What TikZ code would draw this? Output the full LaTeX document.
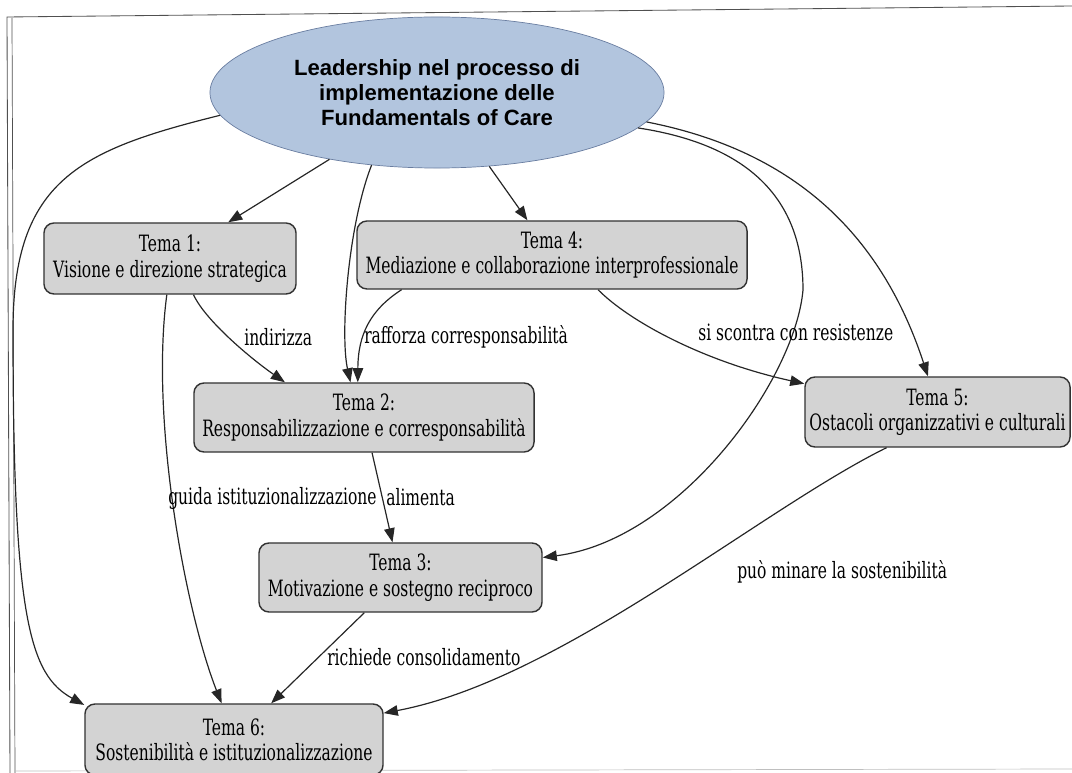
\documentclass[tikz,border=0pt]{standalone}
\usepackage{fontspec}
\newfontfamily\temafont{DejaVu Serif}[FakeStretch=0.69]
\newfontfamily\titolofont{Liberation Sans}
\usetikzlibrary{arrows.meta,shapes.geometric}

\definecolor{colradice}{RGB}{178,197,222}
\definecolor{colbordoradice}{RGB}{105,125,160}
\definecolor{colgrigiotema}{RGB}{211,211,211}
\definecolor{colbordotema}{RGB}{50,50,50}
\definecolor{colcornice}{RGB}{80,80,80}

\tikzset{
  radice/.style={ellipse, draw=colbordoradice, fill=colradice, line width=0.5pt,
       inner sep=0pt, align=center,
       font=\titolofont\bfseries\fontsize{15.7}{17.6}\selectfont},
  tema/.style={draw=colbordotema, fill=colgrigiotema, line width=1pt,
       rounded corners=0.25cm, inner sep=0pt, align=center,
       font=\temafont\fontsize{16}{18}\selectfont},
  arco/.style={draw=black!85, line width=0.85pt, -{Triangle[length=10pt,width=7.5pt]}},
  etichetta/.style={anchor=west, inner sep=0pt,
       font=\temafont\fontsize{16}{18}\selectfont},
}

\begin{document}
\begin{tikzpicture}[x=0.025cm, y=-0.025cm]

\useasboundingbox (0,0) rectangle (1072,773);

% cornice
\draw[colcornice, line width=0.6pt] (10,773) -- (7,17) -- (1072,6);
\draw[colcornice, line width=0.5pt] (15,773) -- (12,18);
\draw[black!25, line width=0.5pt] (15,771) -- (1072,769);

% nodi
\node[radice, minimum width=11.35cm, minimum height=3.775cm] (root) at (437,92.5)
  {Leadership nel processo di\\implementazione delle\\Fundamentals of Care};

\node[tema, minimum width=6.3cm, minimum height=1.775cm] (t1) at (170,258.5)
  {Tema 1:\\Visione e direzione strategica};
\node[tema, minimum width=9.75cm, minimum height=1.7cm] (t4) at (552,255)
  {Tema 4:\\Mediazione e collaborazione interprofessionale};
\node[tema, minimum width=8.5cm, minimum height=1.725cm] (t2) at (364,417.5)
  {Tema 2:\\Responsabilizzazione e corresponsabilità};
\node[tema, minimum width=7.075cm, minimum height=1.725cm] (t3) at (400.5,577.5)
  {Tema 3:\\Motivazione e sostegno reciproco};
\node[tema, minimum width=6.625cm, minimum height=1.75cm] (t5) at (937.5,412)
  {Tema 5:\\Ostacoli organizzativi e culturali};
\node[tema, minimum width=7.45cm, minimum height=1.775cm] (t6) at (234,739.5)
  {Tema 6:\\Sostenibilità e istituzionalizzazione};

% archi dalla radice
\draw[arco] (root) -- (t1);
\draw[arco] (root) -- (t4);
\draw[arco] (root.-132) .. controls (348,225) and (340,335) .. (t2.111);
\draw[arco] (root.-10) .. controls (750,145) and (803,200) .. (803,290)
  .. controls (795,380) and (680,540) .. (t3.8);
\draw[arco] (root.-8) .. controls (790,150) and (880,230) .. (t5.105);
\draw[arco] (root.-174) .. controls (80,150) and (13,180) .. (13,330)
  .. controls (13,620) and (30,675) .. (t6.167);

% archi tra i temi
\draw[arco] (t1.-57) .. controls (205,320) and (250,358) .. (t2.156);
\draw[arco] (t1.-95) .. controls (150,420) and (185,610) .. (t6.109);
\draw[arco] (t4.-167) .. controls (370,310) and (358,335) .. (t2.100);
\draw[arco] (t4.-37) .. controls (630,322) and (705,362) .. (t5.168);
\draw[arco] (t2) -- (t3);
\draw[arco] (t3) -- (t6);
\draw[arco] (t5.-145) .. controls (760,510) and (560,680) .. (t6.10);

% etichette
\node[etichetta] (eindirizza) at (244,337) {indirizza};
\node[etichetta] (erafforza) at (364,337) {rafforza corresponsabilità};
\node[etichetta] (eguida) at (168,498) {guida istituzionalizzazione};
\node[etichetta] (ealimenta) at (386,497) {alimenta};
\node[etichetta] (erichiede) at (327,657) {richiede consolidamento};
\node[etichetta] (escontra) at (698,332) {si scontra con resistenze};
\node[etichetta] (eminare) at (737,572) {può minare la sostenibilità};

\end{tikzpicture}
\end{document}
